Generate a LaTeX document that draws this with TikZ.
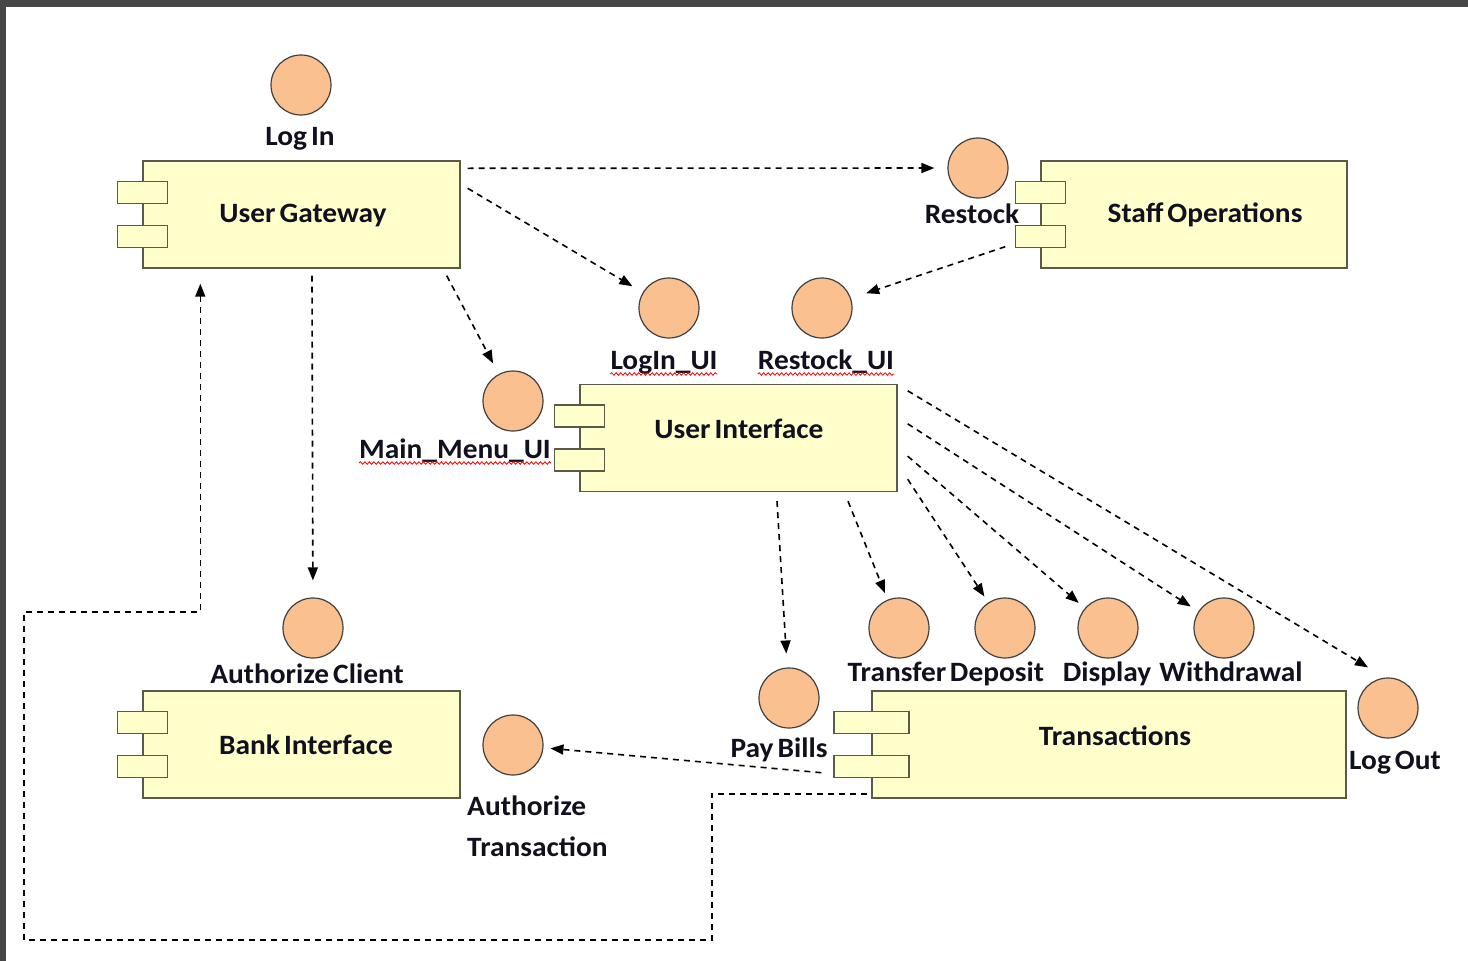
\documentclass[tikz,border=0pt]{standalone}
\usepackage{fontspec}
\setmainfont[FakeStretch=1.05,WordSpace=0.6]{Carlito}
\usetikzlibrary{arrows.meta,calc,decorations.pathmorphing}
\definecolor{boxfill}{HTML}{FFFFCC}
\definecolor{boxline}{HTML}{5A5A4A}
\definecolor{peach}{HTML}{FAC090}
\definecolor{frame}{HTML}{474747}
\definecolor{ink}{HTML}{10101E}

\newcommand{\compports}[2][50]{%
  \foreach \dy in {-22,22}
    \node[portbox,minimum width=#1pt] at ($(#2.west)+(0,\dy)$) {};}

\begin{document}
\begin{tikzpicture}[x=1pt,y=-1pt,
    comp/.style={draw=boxline,fill=boxfill,line width=1.4pt,minimum width=317pt,minimum height=107pt,inner sep=0pt},
    portbox/.style={draw=boxline,fill=boxfill,line width=1.4pt,minimum height=22pt,inner sep=0pt},
    iface/.style={circle,draw=black!75,fill=peach,line width=1.2pt,minimum size=60pt,inner sep=0pt},
    txt/.style={font=\fontsize{28}{32}\selectfont\bfseries,text=ink,inner sep=0pt,anchor=base},
    dep/.style={draw,line width=1.6pt,dash pattern=on 6pt off 5pt,-{Triangle[length=13pt,width=10pt]},shorten >=12pt},
    squiggle/.style={draw=red,line width=0.8pt,decorate,decoration={snake,amplitude=1.3pt,segment length=4.5pt}}]
    \useasboundingbox (0,0) rectangle (1468,961);
    \fill[frame] (0,0) rectangle (1468,7);
    \fill[frame] (0,0) rectangle (6,961);

    % components
    \node[comp] (ug) at (301.5,214.5) {};
    \node[comp,minimum width=306pt] (staff) at (1194,214.5) {};
    \node[comp] (ui) at (738.5,438) {};
    \node[comp] (bank) at (301.5,744.5) {};
    \node[comp,minimum width=474pt] (trans) at (1109,744.5) {};
    \compports{ug}
    \compports{staff}
    \compports{ui}
    \compports{bank}
    \compports[75]{trans}
    \node[txt] (ug-t) at (303,222) {User Gateway};
    \node[txt] (staff-t) at (1205,222) {Staff Operations};
    \node[txt] (ui-t) at (739,438) {User Interface};
    \node[txt] (bank-t) at (306,754) {Bank Interface};
    \node[txt] (trans-t) at (1115,745) {Transactions};

    % interfaces
    \node[iface] (login) at (301,85) {};
    \node[iface] (restock) at (978,168) {};
    \node[iface] (loginui) at (669,308) {};
    \node[iface] (restockui) at (822,308) {};
    \node[iface] (mainmenu) at (513,401) {};
    \node[iface] (authc) at (313,628) {};
    \node[iface] (autht) at (513,745) {};
    \node[iface] (paybills) at (789,698) {};
    \node[iface] (transfer) at (899,628) {};
    \node[iface] (deposit) at (1005,628) {};
    \node[iface] (display) at (1108,628) {};
    \node[iface] (withdraw) at (1224,628) {};
    \node[iface] (logout) at (1388,708) {};

    \node[txt] (login-t) at (300,145) {Log In};
    \node[txt] (restock-t) at (972,223) {Restock};
    \node[txt] (loginui-t) at (664,369) {LogIn\_UI};
    \node[txt] (restockui-t) at (826,369) {Restock\_UI};
    \node[txt] (mainmenu-t) at (455,458) {Main\_Menu\_UI};
    \node[txt] (authc-t) at (307,683) {Authorize Client};
    \node[txt,anchor=base west] (autht-t) at (467,815) {Authorize};
    \node[txt,anchor=base west] (autht-t2) at (467,856) {Transaction};
    \node[txt] (paybills-t) at (779,757) {Pay Bills};
    \node[txt] (transfer-t) at (897,681) {Transfer};
    \node[txt] (deposit-t) at (997,681) {Deposit};
    \node[txt] (display-t) at (1107,681) {Display};
    \node[txt] (withdraw-t) at (1231,681) {Withdrawal};
    \node[txt] (logout-t) at (1395,769) {Log Out};

    \draw[squiggle] ($(loginui-t.base west)+(0,5)$) -- ($(loginui-t.base east)+(0,5)$);
    \draw[squiggle] ($(restockui-t.base west)+(0,5)$) -- ($(restockui-t.base east)+(0,5)$);
    \draw[squiggle] ($(mainmenu-t.base west)+(0,5)$) -- ($(mainmenu-t.base east)+(0,5)$);

    % dependencies
    \draw[dep,shorten >=13pt] ($(ug.north east)+(7,8)$) -- (restock.west);
    \draw[dep] ($(ug.north east)+(7,28)$) -- (loginui);
    \draw[dep] ($(ug.south east)+(-14,7)$) -- (mainmenu);
    \draw[dep,shorten >=17pt] ($(ug.south)+(10.5,7)$) -- (authc);
    \draw[dep,shorten >=16pt] ($(staff.south west)+(-35,-22)$) -- (restockui);
    \draw[dep,shorten >=14pt] ($(ui.south)+(38.5,9)$) -- (paybills);
    \draw[dep,shorten >=7pt] ($(ui.south)+(109.5,9)$) -- (transfer);
    \draw[dep,shorten >=7pt] ($(ui.south east)+(10,-13)$) -- (deposit);
    \draw[dep,shorten >=8pt] ($(ui.south east)+(10,-36)$) -- (display);
    \draw[dep,shorten >=9pt] ($(ui.north east)+(10,40)$) -- (withdraw);
    \draw[dep,shorten >=0pt] ($(ui.north east)+(10,7)$) -- ($(logout.north)+(-20,-10)$);
    \draw[dep,shorten >=7pt] ($(trans.south west)+(-50,-26)$) -- (autht);
    \coordinate (loopa) at (712,940);
    \coordinate (loopb) at (24,612);
    \draw[dep,shorten >=15pt] ($(trans.south west)+(-4,-5)$) -| (loopa) -| (loopb) -| ($(ug.south west)+(58,0)$);
\end{tikzpicture}
\end{document}
